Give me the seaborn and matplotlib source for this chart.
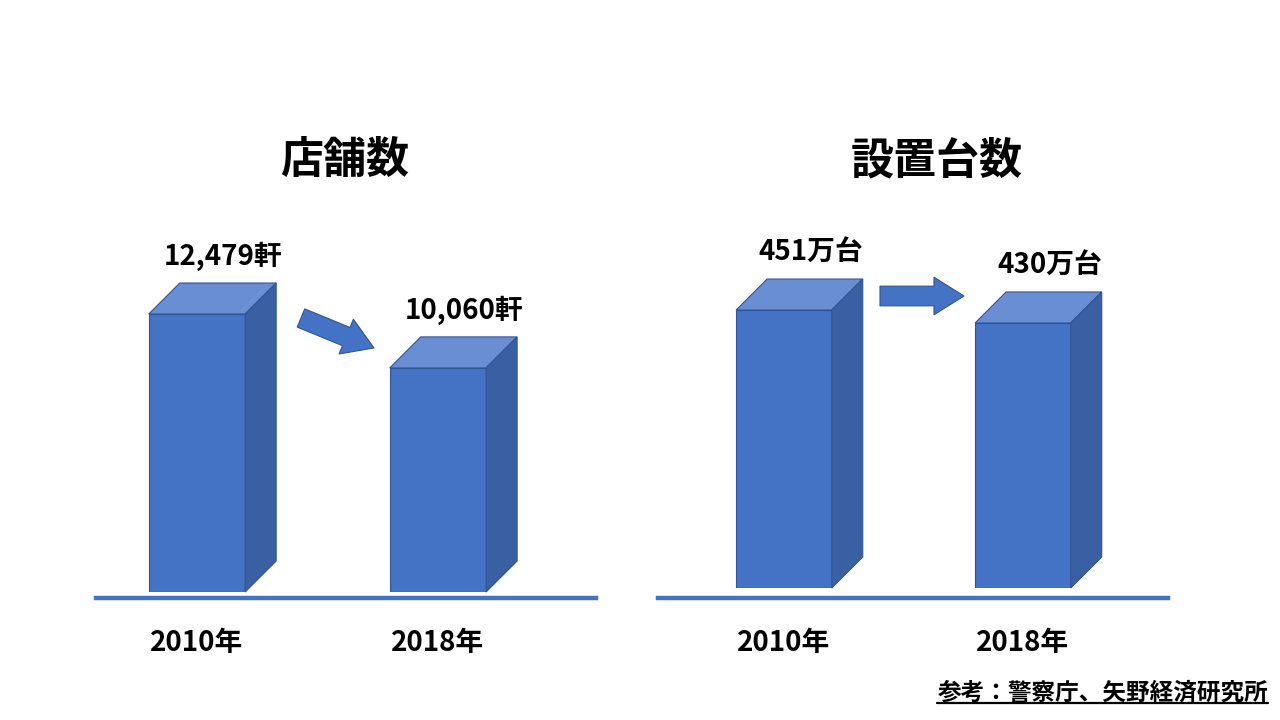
import matplotlib
matplotlib.use("Agg")
import matplotlib.pyplot as plt
import matplotlib.patches as mpatches
from matplotlib.lines import Line2D
import seaborn as sns
import pandas as pd

sns.set_theme(style="white")
plt.rcParams['font.family'] = ['Noto Sans CJK JP', 'DejaVu Sans']

years = ["2010年", "2018年"]
stores = [12479, 10060]
store_labels = ["12,479軒", "10,060軒"]
machines = [451, 430]
machine_labels = ["451万台", "430万台"]
titles = ["店舗数", "設置台数"]
source = "参考：警察庁、矢野経済研究所"

FRONT = "#4472C4"
TOP = "#6A8ED3"
SIDE = "#3A5FA3"
EDGE = "#2F5597"

W, H = 1280, 720
fig = plt.figure(figsize=(12.8, 7.2), dpi=100)
fig.patch.set_facecolor("white")

def px_axes(x0, x1, ybot, ytop):
    return fig.add_axes([x0 / W, (H - ybot) / H, (x1 - x0) / W, (ybot - ytop) / H])

panels = [
    dict(rect=(96, 596, 592, 200), xlim=(-0.419, 1.656), ymax=17597, out=4.5, pad=22,
         vals=stores, labs=store_labels, title=titles[0], tx=345),
    dict(rect=(658, 1168, 588, 196), xlim=(-0.527, 1.607), ymax=636, out=7.5, pad=22,
         vals=machines, labs=machine_labels, title=titles[1], tx=937),
]

DEPTH = 31  # px

for p in panels:
    ax = px_axes(*p["rect"])
    df = pd.DataFrame({"year": years, "value": p["vals"]})
    sns.barplot(data=df, x="year", y="value", ax=ax, color=FRONT,
                width=0.4, saturation=1, edgecolor=EDGE, linewidth=0.8)
    ax.set_xlim(*p["xlim"])
    ax.set_ylim(0, p["ymax"])
    ax.set_facecolor("none")
    ax.set_xlabel("")
    ax.set_ylabel("")
    ax.set_yticks([])
    for s in ["top", "left", "right"]:
        ax.spines[s].set_visible(False)
    ax.spines["bottom"].set_color(FRONT)
    ax.spines["bottom"].set_linewidth(3.2)
    ax.spines["bottom"].set_position(("outward", p["out"]))
    ax.tick_params(axis="x", length=0, pad=p["pad"], labelsize=20)
    for t in ax.get_xticklabels():
        t.set_fontweight("bold")
        t.set_color("black")

    # depth in data units
    xpx = ax.transData.transform([[0, 0], [1, 0]])
    ypx = ax.transData.transform([[0, 0], [0, 1000]])
    dx = DEPTH / (xpx[1, 0] - xpx[0, 0])
    dy = DEPTH / (ypx[1, 1] - ypx[0, 1]) * 1000

    for bar, lab in zip(ax.patches, p["labs"]):
        x0 = bar.get_x()
        w = bar.get_width()
        h = bar.get_height()
        x1 = x0 + w
        top = mpatches.Polygon([(x0, h), (x1, h), (x1 + dx, h + dy), (x0 + dx, h + dy)],
                               closed=True, facecolor=TOP, edgecolor=EDGE, linewidth=0.8,
                               clip_on=False, zorder=3)
        side = mpatches.Polygon([(x1, 0), (x1 + dx, dy), (x1 + dx, h + dy), (x1, h)],
                                closed=True, facecolor=SIDE, edgecolor=EDGE, linewidth=0.8,
                                clip_on=False, zorder=3)
        ax.add_patch(top)
        ax.add_patch(side)
        ax.annotate(lab, xy=(x0 + w / 2 + dx * 0.85, h + dy), xytext=(0, 12),
                    textcoords="offset pixels", ha="center", va="bottom",
                    fontsize=20, fontweight="bold", color="black", annotation_clip=False)

    fig.text(p["tx"] / W, 1 - 160 / H, p["title"], ha="center", va="center",
             fontsize=31, fontweight="bold", color="black")

# trend arrows (figure pixel coords)
def block_arrow(xa, ya, xb, yb):
    arr = mpatches.FancyArrowPatch((xa / W, 1 - ya / H), (xb / W, 1 - yb / H),
                                   transform=fig.transFigure,
                                   arrowstyle=mpatches.ArrowStyle.Simple(head_length=1.6, head_width=2.0, tail_width=1.05),
                                   mutation_scale=13.5, facecolor=FRONT, edgecolor=EDGE,
                                   linewidth=0.8, shrinkA=0, shrinkB=0)
    fig.add_artist(arr)

block_arrow(301, 318, 374, 348)
block_arrow(880, 296, 964, 296)

# source note with underline
st = fig.text(1268 / W, 1 - 693 / H, source, ha="right", va="center",
              fontsize=17, fontweight="bold", color="black")
fig.canvas.draw()
bb = st.get_window_extent()
fig.add_artist(Line2D([bb.x0 / W, bb.x1 / W], [(bb.y0 + 2) / H, (bb.y0 + 2) / H],
                      transform=fig.transFigure, color="black", linewidth=1.6))

fig.savefig("out.png", dpi=100, facecolor="white")
